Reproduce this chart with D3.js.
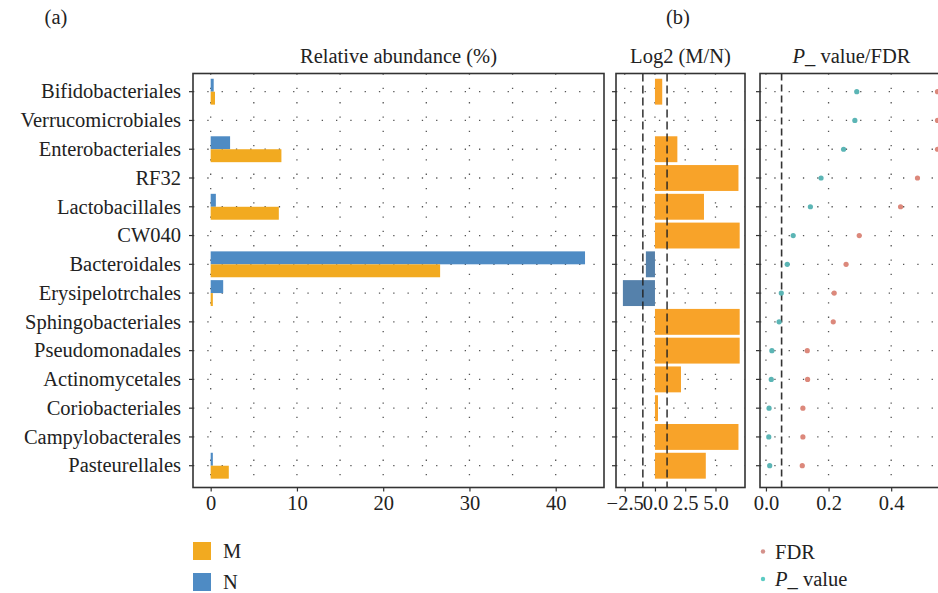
<!DOCTYPE html>
<html>
<head>
<meta charset="utf-8">
<script src="https://cdn.jsdelivr.net/npm/d3@7"></script>
<style>
  body { margin: 0; background: #fff; }
  text { font-family: "Liberation Serif", "DejaVu Serif", serif; fill: #222; }
</style>
</head>
<body>
<div id="vis"></div>
<script>
var width = 938;
var height = 593;

// orders, top to bottom
var orders = ["Bifidobacteriales", "Verrucomicrobiales", "Enterobacteriales", "RF32",
  "Lactobacillales", "CW040", "Bacteroidales", "Erysipelotrchales", "Sphingobacteriales",
  "Pseudomonadales", "Actinomycetales", "Coriobacteriales", "Campylobacterales", "Pasteurellales"];

// relative abundance (%)
var relM = [0.5, 0, 8.2, 0, 7.9, 0, 26.6, 0.25, 0, 0, 0, 0, 0, 2.1];
var relN = [0.35, 0, 2.25, 0, 0.6, 0, 43.4, 1.45, 0, 0, 0, 0, 0, 0.25];

// log2 fold change M/N (null = not drawn)
var log2fc = [0.6, null, 1.85, 6.9, 4.05, 7.0, -0.75, -2.65, 7.0, 7.0, 2.15, 0.25, 6.9, 4.2];

var pval = [0.29, 0.284, 0.248, 0.176, 0.142, 0.087, 0.068, 0.049, 0.042, 0.019, 0.017, 0.01, 0.009, 0.012];
var fdr = [0.548, 0.548, 0.548, 0.484, 0.43, 0.298, 0.256, 0.218, 0.215, 0.132, 0.133, 0.118, 0.118, 0.116];

var relTicks = [0, 10, 20, 30, 40];
var relGrid = [0, 5, 10, 15, 20, 25, 30, 35, 40];
var fcTicks = [-2.5, 0, 2.5, 5];
var pTicks = [0, 0.2, 0.4];

var colM = "#F2AA20", colN = "#4E8BC4";
var colUp = "#F8A329", colDown = "#5581AB";
var colP = "#5BB5B5", colFDR = "#DC887B";

// note: "top" is taken by window.top
var plotTop = 73.5, plotBottom = 487.5;
var fs = "20.5px";

var svg = d3.select("#vis").append("svg")
  .attr("width", width)
  .attr("height", height);

var y = d3.scaleBand().domain(orders).range([77.3, 480.1]);
var step = y.step();
function yc(d) { return y(d) + step / 2; }

var xL = d3.scaleLinear().domain([-2.05, 45.6]).range([193, 604]);
var xM = d3.scaleLinear().domain([-3.22, 7.44]).range([616, 745]);
var xR = d3.scaleLinear().domain([-0.019, 0.57]).range([760, 944.4]);

// dotted grid for a panel
function grid(x, vals) {
  var g = svg.append("g");
  g.selectAll(".h").data(orders).enter().append("line")
    .attr("x1", x.range()[0]).attr("x2", x.range()[1])
    .attr("y1", yc).attr("y2", yc)
    .attr("stroke", "#555").attr("stroke-width", 1.3)
    .attr("stroke-dasharray", "1.3,13");
  g.selectAll(".v").data(vals).enter().append("line")
    .attr("x1", x).attr("x2", x)
    .attr("y1", plotTop).attr("y2", plotBottom)
    .attr("stroke", "#555").attr("stroke-width", 1.3)
    .attr("stroke-dasharray", "1.3,13");
}

// box, y ticks and x axis for a panel
function frame(x, ticks, fmt) {
  var r = x.range();
  svg.append("rect")
    .attr("x", r[0]).attr("y", plotTop)
    .attr("width", r[1] - r[0]).attr("height", plotBottom - plotTop)
    .attr("fill", "none").attr("stroke", "#333").attr("stroke-width", 1.6);
  svg.append("g").selectAll("line").data(orders).enter().append("line")
    .attr("x1", r[0] - 4).attr("x2", r[0])
    .attr("y1", yc).attr("y2", yc)
    .attr("stroke", "#333").attr("stroke-width", 1.2);
  var ax = svg.append("g")
    .attr("transform", "translate(0," + plotBottom + ")")
    .call(d3.axisBottom(x).tickValues(ticks).tickFormat(fmt).tickSize(4).tickPadding(4));
  ax.select(".domain").remove();
  ax.selectAll("line").attr("stroke", "#333").attr("stroke-width", 1.2);
  ax.selectAll("text").style("font-size", fs).style("font-family", "Liberation Serif").attr("fill", "#222");
}

// ---- panel 1: relative abundance
grid(xL, relGrid);

svg.append("g").selectAll("rect").data(orders).enter().append("rect")
  .attr("x", function (d, i) { return xL(0); })
  .attr("y", function (d) { return yc(d) - step * 0.45; })
  .attr("width", function (d, i) { return xL(relN[i]) - xL(0); })
  .attr("height", step * 0.45)
  .attr("fill", colN);

svg.append("g").selectAll("rect").data(orders).enter().append("rect")
  .attr("x", function (d, i) { return xL(0); })
  .attr("y", function (d) { return yc(d); })
  .attr("width", function (d, i) { return xL(relM[i]) - xL(0); })
  .attr("height", step * 0.45)
  .attr("fill", colM);

frame(xL, relTicks, d3.format("d"));

svg.append("g").selectAll("text").data(orders).enter().append("text")
  .attr("x", 181).attr("y", yc).attr("dy", "0.33em")
  .attr("text-anchor", "end")
  .style("font-size", fs)
  .text(function (d) { return d; });

// ---- panel 2: log2 fold change
grid(xM, fcTicks);

svg.append("g").selectAll("rect").data(orders.filter(function (d, i) { return log2fc[i] != null; }))
  .enter().append("rect")
  .attr("x", function (d) { var v = log2fc[orders.indexOf(d)]; return xM(Math.min(0, v)); })
  .attr("y", function (d) { return yc(d) - step * 0.45; })
  .attr("width", function (d) { var v = log2fc[orders.indexOf(d)]; return Math.abs(xM(v) - xM(0)); })
  .attr("height", step * 0.9)
  .attr("fill", function (d) { return log2fc[orders.indexOf(d)] < 0 ? colDown : colUp; });

svg.append("g").selectAll("line").data([-1, 1]).enter().append("line")
  .attr("x1", xM).attr("x2", xM)
  .attr("y1", plotTop).attr("y2", plotBottom)
  .attr("stroke", "#222").attr("stroke-width", 1.4)
  .attr("stroke-dasharray", "8,4");

frame(xM, fcTicks, d3.format(".1f"));

// ---- panel 3: p value / FDR
grid(xR, pTicks);

svg.append("line")
  .attr("x1", xR(0.05)).attr("x2", xR(0.05))
  .attr("y1", plotTop).attr("y2", plotBottom)
  .attr("stroke", "#333").attr("stroke-width", 1.6)
  .attr("stroke-dasharray", "7,4");

svg.append("g").selectAll("circle").data(orders).enter().append("circle")
  .attr("cx", function (d, i) { return xR(fdr[i]); })
  .attr("cy", yc).attr("r", 2.6)
  .attr("fill", colFDR);

svg.append("g").selectAll("circle").data(orders).enter().append("circle")
  .attr("cx", function (d, i) { return xR(pval[i]); })
  .attr("cy", yc).attr("r", 2.6)
  .attr("fill", colP);

frame(xR, pTicks, d3.format(".1f"));

// ---- titles
svg.append("text").attr("x", 398.5).attr("y", 63).attr("text-anchor", "middle")
  .style("font-size", fs).text("Relative abundance (%)");
svg.append("text").attr("x", 680.5).attr("y", 63).attr("text-anchor", "middle")
  .style("font-size", fs).text("Log2 (M/N)");
var pt = svg.append("text").attr("x", 851.5).attr("y", 63).attr("text-anchor", "middle")
  .style("font-size", fs);
pt.append("tspan").style("font-style", "italic").text("P");
pt.append("tspan").text("_ value/FDR");

svg.append("text").attr("x", 56).attr("y", 24).attr("text-anchor", "middle")
  .style("font-size", fs).text("(a)");
svg.append("text").attr("x", 678).attr("y", 24).attr("text-anchor", "middle")
  .style("font-size", fs).text("(b)");

// ---- legends
var legA = [{k: "M", c: colM}, {k: "N", c: colN}];
var la = svg.append("g").selectAll("g").data(legA).enter().append("g")
  .attr("transform", function (d, i) { return "translate(193," + (542 + i * 31) + ")"; });
la.append("rect").attr("width", 18).attr("height", 18).attr("fill", function (d) { return d.c; });
la.append("text").attr("x", 30).attr("y", 9).attr("dy", "0.35em")
  .style("font-size", fs).text(function (d) { return d.k; });

var legB = [{k: "FDR", c: "#D4918B"}, {k: "P", c: "#5CCBC3"}];
var lb = svg.append("g").selectAll("g").data(legB).enter().append("g")
  .attr("transform", function (d, i) { return "translate(763," + (551.5 + i * 27.5) + ")"; });
lb.append("circle").attr("r", 2.2).attr("fill", function (d) { return d.c; });
var lbt = lb.append("text").attr("x", 12).attr("y", 0).attr("dy", "0.35em")
  .style("font-size", fs);
lbt.append("tspan").style("font-style", function (d) { return d.k == "P" ? "italic" : "normal"; })
  .text(function (d) { return d.k; });
lbt.filter(function (d) { return d.k == "P"; }).append("tspan").text("_ value");
</script>
</body>
</html>
